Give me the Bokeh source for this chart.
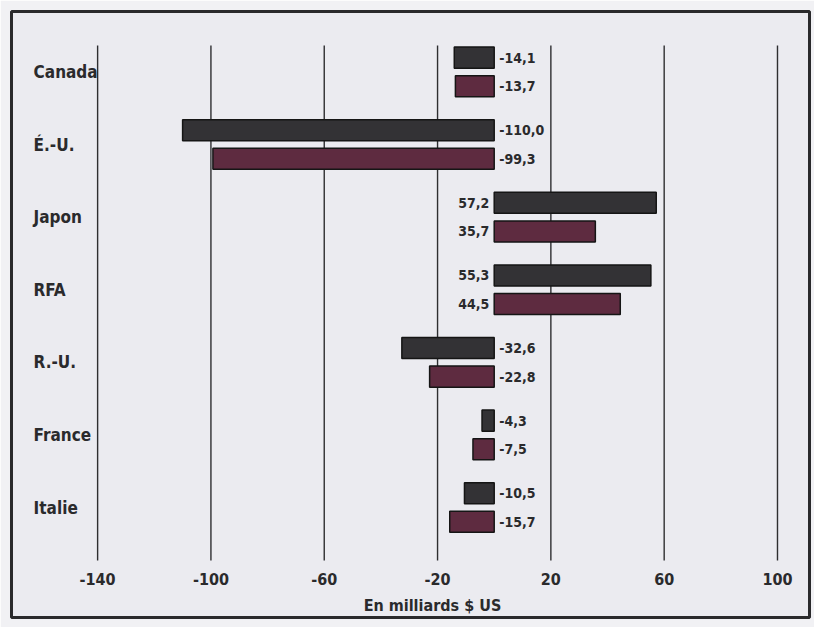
from bokeh.plotting import figure
from bokeh.models import LinearAxis, FixedTicker, ColumnDataSource, Range1d
from bokeh.core.properties import value
from bokeh.embed import file_html
from bokeh.resources import INLINE

# ---- data ----
categories = ["Canada", "É.-U.", "Japon", "RFA", "R.-U.", "France", "Italie"]
series_dark = [-14.1, -110.0, 57.2, 55.3, -32.6, -4.3, -10.5]
series_red = [-13.7, -99.3, 35.7, 44.5, -22.8, -7.5, -15.7]
x_ticks = [-140, -100, -60, -20, 20, 60, 100]
axis_title = "En milliards $ US"

# ---- style ----
FONT = "'DejaVu Sans Condensed', 'Roboto Condensed', Roboto, sans-serif"
BG = "#ebebf0"
OUTER = "#f1f1f4"
DARK = "#333235"
MAROON = "#5e2b40"
INK = "#2a2a2c"

n = len(categories)
ycat = [n - 1 - i for i in range(n)]
OFF = 0.197
H = 0.29

p = figure(width=814, height=627,
           x_range=Range1d(-170.4, 111.3), y_range=Range1d(-1.515, 6.832),
           x_axis_location=None, y_axis_location=None,
           toolbar_location=None, output_backend="svg",
           min_border_left=11, min_border_right=5, min_border_top=11, min_border_bottom=10,
           background_fill_color=BG, border_fill_color=OUTER,
           outline_line_color=INK, outline_line_width=3)
p.grid.visible = False

# grid lines (limited vertical extent)
p.segment(x0=x_ticks, x1=x_ticks, y0=[6.364] * len(x_ticks), y1=[-0.73] * len(x_ticks),
          line_color="#2e2e30", line_width=1.4)

def fmt(v):
    return f"{v:.1f}".replace(".", ",")

for vals, off, col in ((series_dark, OFF, DARK), (series_red, -OFF, MAROON)):
    ys = [y + off for y in ycat]
    p.hbar(y=ys, left=0, right=vals, height=H, fill_color=col,
           line_color="#151515", line_width=1.5)
    src = ColumnDataSource(dict(
        x=[0] * n, y=ys, t=[fmt(v) for v in vals],
        align=["left" if v < 0 else "right" for v in vals],
        xo=[5 if v < 0 else -5 for v in vals]))
    p.text(x="x", y="y", text="t", source=src, text_align="align", x_offset="xo",
           text_baseline="middle", text_font=value(FONT), text_font_style="bold",
           text_font_size="14px", text_color=INK)

# category labels
p.text(x=[-162.6] * n, y=ycat, text=categories, text_align="left", text_baseline="middle",
       text_font=value(FONT), text_font_style="bold", text_font_size="17px", text_color=INK)

ax = LinearAxis(fixed_location=-0.84, ticker=FixedTicker(ticks=x_ticks))
ax.major_label_overrides = {t: str(t) for t in x_ticks}
ax.axis_line_color = None
ax.major_tick_line_color = None
ax.minor_tick_line_color = None
ax.major_tick_in = 0
ax.major_tick_out = 0
ax.major_label_standoff = 5
ax.major_label_text_font = FONT
ax.major_label_text_font_style = "bold"
ax.major_label_text_font_size = "16px"
ax.major_label_text_color = INK
p.add_layout(ax, "below")

# axis title (positioned under the plot, slightly right of centre as in the original)
p.text(x=[-21.8], y=[-1.35], text=[axis_title], text_align="center", text_baseline="middle",
       text_font=value(FONT), text_font_style="bold", text_font_size="16px", text_color=INK)

open("out.html", "w").write(file_html(p, INLINE))
